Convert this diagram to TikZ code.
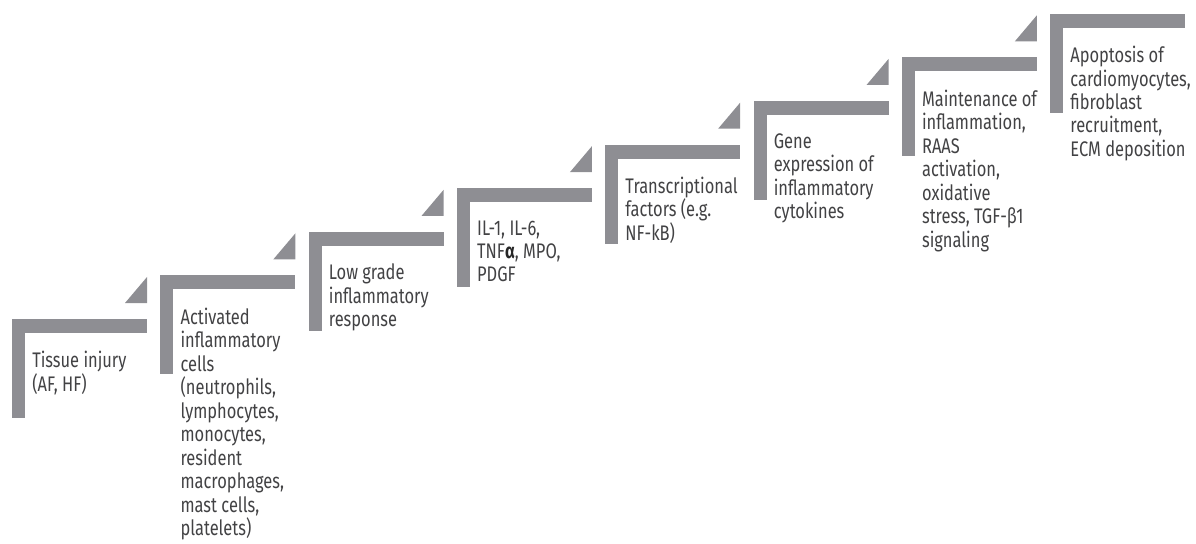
\documentclass[tikz,border=0pt]{standalone}
\usepackage{fontspec}
\setmainfont[FakeStretch=0.78]{Fira Sans}
\usetikzlibrary{positioning}
\definecolor{stepgray}{RGB}{142,142,147}
\definecolor{textgray}{RGB}{66,66,68}

\begin{document}
\begin{tikzpicture}[x=0.025cm,y=-0.025cm,
    stepbar/.style={fill=stepgray,draw=none},
    steptext/.style={anchor=north west,inner sep=0pt,align=left,text=textgray,
        font=\fontsize{15}{16.7}\selectfont}]
    \useasboundingbox (0,0) rectangle (1196,544);

    % Steps with their labels
    \foreach \k/\txt in {
        1/{Tissue injury\\(AF, HF)},
        2/{Activated\\inflammatory\\cells\\(neutrophils,\\lymphocytes,\\monocytes,\\resident\\macrophages,\\mast cells,\\platelets)},
        3/{Low grade\\inflammatory\\response},
        4/{IL-1, IL-6,\\TNF{\bfseries\color{black!85}α}, MPO,\\PDGF},
        5/{Transcriptional\\factors (e.g.\\NF-kB)},
        6/{Gene\\expression of\\inflammatory\\cytokines},
        7/{Maintenance of\\inflammation,\\RAAS\\activation,\\oxidative\\stress, TGF-β1\\signaling},
        8/{Apoptosis of\\cardiomyocytes,\\fibroblast\\recruitment,\\ECM deposition}}{
        \pgfmathsetmacro{\xa}{12+148.3*(\k-1)}
        \pgfmathsetmacro{\ya}{319-43.6*(\k-1)}
        \fill[stepbar] (\xa,\ya) rectangle ++(135,14);
        \fill[stepbar] (\xa,\ya) rectangle ++(13,99);
        \node[steptext] (step\k) at (\xa+20,\ya+32) {\txt};
    }

    % Small corner triangles
    \foreach \k in {1,...,7}{
        \pgfmathsetmacro{\xa}{12+148.3*(\k-1)}
        \pgfmathsetmacro{\ya}{319-43.6*(\k-1)}
        \fill[stepbar] (\xa+113,\ya-16) -- (\xa+135,\ya-16) -- (\xa+135,\ya-42) -- cycle;
    }

\end{tikzpicture}
\end{document}
